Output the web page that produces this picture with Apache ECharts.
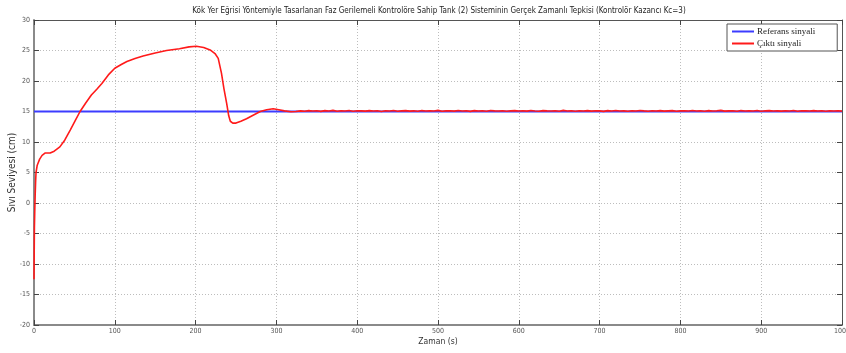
<!DOCTYPE html>
<html>
<head>
<meta charset="utf-8">
<script src="https://cdn.jsdelivr.net/npm/echarts@6/dist/echarts.min.js"></script>
<style>
  html, body { margin: 0; padding: 0; background: #fff; }
  #chart { width: 846px; height: 353px; }
</style>
</head>
<body>
<div id="chart"></div>
<script>
// Tank (2) liquid level response, controller gain Kc = 3
const titleText = 'Kök Yer Eğrisi Yöntemiyle Tasarlanan Faz Gerilemeli Kontrolöre Sahip Tank (2) Sisteminin Gerçek Zamanlı Tepkisi (Kontrolör Kazancı Kc=3)';
const xAxisName = 'Zaman (s)';
const yAxisName = 'Sıvı Seviyesi (cm)';
const seriesNames = ['Referans sinyali', 'Çıktı sinyali'];

// Reference set-point (cm)
const referenceLevel = 15;

// Transient part of the measured output: time (s) and level (cm)
const transientTime = [
  0, 0.5, 1, 1.5, 2, 2.5, 4, 7, 10, 14, 20, 25, 32, 38, 45, 51, 57, 64, 71, 78,
  84, 92, 100, 108, 115, 125, 135, 150, 164, 180, 192, 201, 210, 218, 224, 228,
  232, 235, 238.5, 241, 243, 246, 250, 256, 263, 270, 280, 288, 296, 303, 310,
  318, 324
];
const transientLevel = [
  -12.5, -4, -1, 1.5, 3.5, 5, 6.2, 7.2, 7.8, 8.2, 8.2, 8.5, 9.2, 10.3, 12, 13.5,
  15, 16.4, 17.7, 18.7, 19.6, 21, 22.1, 22.7, 23.2, 23.7, 24.1, 24.6, 25.0, 25.3,
  25.6, 25.7, 25.5, 25.1, 24.5, 23.7, 21.3, 18.8, 16.3, 14.3, 13.4, 13.1, 13.1,
  13.4, 13.8, 14.3, 15.0, 15.3, 15.45, 15.3, 15.1, 14.95, 15.0
];

// Steady-state part, sampled every 5 s from 330 s to 1000 s
const tailStart = 330;
const tailStep = 5;
const tailLevel = [
  15.10,15.05,15.15,15.08,15.12,15.02,15.14,15.09,15.18,15.04,
  15.11,15.07,15.16,15.03,15.12,15.10,15.06,15.15,15.09,15.13,
  15.01,15.12,15.08,15.17,15.05,15.10,15.14,15.06,15.11,15.03,
  15.15,15.09,15.12,15.07,15.18,15.04,15.10,15.13,15.06,15.16,
  15.08,15.11,15.02,15.14,15.09,15.12,15.05,15.17,15.10,15.07,
  15.13,15.04,15.11,15.15,15.08,15.12,15.06,15.16,15.09,15.03,
  15.14,15.10,15.07,15.12,15.05,15.18,15.09,15.11,15.04,15.13,
  15.08,15.15,15.06,15.12,15.10,15.02,15.14,15.09,15.16,15.07,
  15.11,15.05,15.13,15.08,15.17,15.10,15.04,15.12,15.09,15.15,
  15.06,15.11,15.14,15.03,15.10,15.13,15.07,15.16,15.09,15.12,
  15.05,15.14,15.08,15.11,15.18,15.06,15.10,15.13,15.04,15.15,
  15.09,15.12,15.07,15.16,15.03,15.11,15.14,15.08,15.10,15.06,
  15.13,15.09,15.17,15.05,15.12,15.10,15.07,15.15,15.08,15.11,
  15.04,15.13,15.09,15.12,15.06
];

const xRange = [0, 1000];
const yRange = [-20, 30];
const xStep = 100;
const yStep = 5;

const outputData = transientTime.map((t, i) => [t, transientLevel[i]])
  .concat(tailLevel.map((v, i) => [tailStart + i * tailStep, v]));
const referenceData = [[xRange[0], referenceLevel], [xRange[1], referenceLevel]];

const narrow = '"DejaVu Sans Condensed", "Liberation Sans Narrow", "Liberation Sans", sans-serif';
const axisGray = '#8a8a8a';
const plainNumber = v => String(v);

const chart = echarts.init(document.getElementById('chart'), null, { renderer: 'canvas' });

// Box axes on the top and right edges: ticks only, no labels
const boxAxis = {
  type: 'value',
  axisLine: { show: true, onZero: false, lineStyle: { color: '#555', width: 1 } },
  axisTick: { show: true, inside: true, length: 5, lineStyle: { color: '#444' } },
  axisLabel: { show: false },
  splitLine: { show: false }
};

chart.setOption({
  animation: false,
  backgroundColor: '#fff',
  title: {
    text: titleText,
    left: 434,
    textAlign: 'center',
    top: 2,
    textStyle: { fontFamily: narrow, fontSize: 8, fontWeight: 'normal', color: '#222' }
  },
  grid: { left: 34, right: 4, top: 20, bottom: 28, containLabel: false, outerBoundsMode: 'none' },
  legend: {
    orient: 'vertical',
    left: 727,
    top: 24,
    backgroundColor: '#fff',
    borderColor: '#555',
    borderWidth: 1,
    borderRadius: 0,
    padding: [3, 22, 3, 5],
    itemGap: 3,
    itemWidth: 22,
    itemHeight: 2,
    icon: 'rect',
    textStyle: { fontFamily: '"Liberation Serif", "DejaVu Serif", serif', fontSize: 9, color: '#222', padding: [0, 0, 0, -2] },
    data: seriesNames
  },
  xAxis: [{
    type: 'value',
    min: xRange[0], max: xRange[1], interval: xStep,
    name: xAxisName,
    nameLocation: 'middle',
    nameGap: 12,
    nameMoveOverlap: false,
    nameTextStyle: { fontFamily: narrow, fontSize: 8.5, color: '#333' },
    axisLine: { show: true, onZero: false, lineStyle: { color: axisGray, width: 2 } },
    axisTick: { show: true, inside: true, length: 5, lineStyle: { color: '#444' } },
    axisLabel: { fontFamily: narrow, fontSize: 7, color: '#555', margin: 3, formatter: plainNumber },
    splitLine: { show: true, lineStyle: { color: '#bdbdbd', type: [1, 2], width: 1 } }
  }, Object.assign({ position: 'top', min: xRange[0], max: xRange[1], interval: xStep }, boxAxis)],
  yAxis: [{
    type: 'value',
    min: yRange[0], max: yRange[1], interval: yStep,
    name: yAxisName,
    nameLocation: 'middle',
    nameGap: 17,
    nameMoveOverlap: false,
    nameRotate: 90,
    nameTextStyle: { fontFamily: narrow, fontSize: 10, color: '#333' },
    axisLine: { show: true, onZero: false, lineStyle: { color: axisGray, width: 2 } },
    axisTick: { show: true, inside: true, length: 5, lineStyle: { color: '#444' } },
    axisLabel: { fontFamily: narrow, fontSize: 7, color: '#555', margin: 4, formatter: plainNumber },
    splitLine: { show: true, lineStyle: { color: '#bdbdbd', type: [1, 2], width: 1 } }
  }, Object.assign({ position: 'right', min: yRange[0], max: yRange[1], interval: yStep }, boxAxis)],
  series: [
    {
      name: seriesNames[0],
      type: 'line',
      data: referenceData,
      symbol: 'none',
      lineStyle: { color: '#3c3cff', width: 2 },
      itemStyle: { color: '#3c3cff' },
      z: 2
    },
    {
      name: seriesNames[1],
      type: 'line',
      data: outputData,
      symbol: 'none',
      lineStyle: { color: '#ff1a1a', width: 1.6 },
      itemStyle: { color: '#ff1a1a' },
      z: 3
    }
  ]
});
</script>
</body>
</html>
